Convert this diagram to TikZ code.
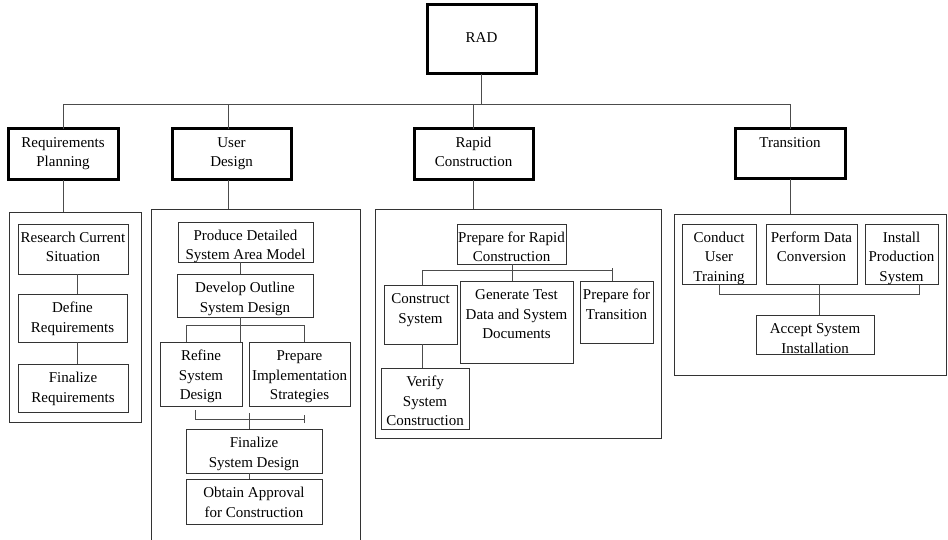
\documentclass[tikz,border=0pt]{standalone}
\usepackage{fontspec}
\setmainfont{Liberation Serif}
\newcommand{\boxat}[7][]{%
  \node[bx,#1] (#2) at (#3,#4) {\begin{minipage}[t][\dimexpr #6pt-#4pt\relax][t]{\dimexpr #5pt-#3pt\relax}\centering\fontsize{15}{19.5}\selectfont\rule{0pt}{18.5pt}#7\end{minipage}};}
\tikzset{
  bx/.style={rectangle,draw=black!80,line width=0.9pt,inner sep=0pt,outer sep=0pt,anchor=north west},
  thickbox/.style={draw=black,line width=3pt},
  conn/.style={draw=black!70,line width=1pt}
}
\begin{document}
\begin{tikzpicture}[x=1pt,y=-1pt]
\useasboundingbox (0,0) rectangle (948,540);
% top
\boxat[thickbox]{rad}{427}{5}{536}{74}{\rule{0pt}{38pt}RAD}
\boxat[thickbox]{rp}{8}{129}{118}{180}{Requirements\\Planning}
\boxat[thickbox]{ud}{172}{129}{291}{180}{User\\Design}
\boxat[thickbox]{rc}{414}{129}{533}{180}{Rapid\\Construction}
\boxat[thickbox]{tr}{735}{129}{845}{179}{Transition}
% containers
\boxat{rpc}{9}{212}{141}{422}{}
\boxat{udc}{151}{209}{360}{560}{}
\boxat{rcc}{375}{209}{661}{438}{}
\boxat{trc}{674}{214}{946}{375}{}
% requirements planning
\boxat{rcs}{18}{224}{128}{274}{Research Current\\Situation}
\boxat{drq}{18}{294}{127}{342}{Define\\Requirements}
\boxat{frq}{18}{364}{128}{412}{Finalize\\Requirements}
% user design
\boxat{pdm}{178}{222}{313}{262}{Produce Detailed\\System Area Model}
\boxat{dos}{177}{274}{313}{317}{Develop Outline\\System Design}
\boxat{rsd}{160}{342}{242}{406}{Refine\\System\\Design}
\boxat{pis}{249}{342}{350}{406}{Prepare\\Implementation\\Strategies}
\boxat{fsd}{186}{429}{322}{473}{Finalize\\System Design}
\boxat{oac}{186}{479}{322}{524}{Obtain Approval\\for Construction}
% rapid construction
\boxat{pfr}{457}{224}{566}{264}{Prepare for Rapid\\Construction}
\boxat{csy}{384}{285}{457}{344}{Construct\\System}
\boxat{gtd}{460}{281}{573}{363}{Generate Test\\Data and System\\Documents}
\boxat{pft}{580}{281}{653}{343}{Prepare for\\Transition}
\boxat{vsc}{381}{368}{469}{429}{Verify\\System\\Construction}
% transition
\boxat{cut}{682}{224}{756}{284}{Conduct\\User\\Training}
\boxat{pdc}{766}{224}{857}{284}{Perform Data\\Conversion}
\boxat{ips}{865}{224}{938}{284}{Install\\Production\\System}
\boxat{asi}{756}{315}{874}{354}{Accept System\\Installation}
% coordinates
\coordinate (bus) at (0,105);
\coordinate (xud) at (228,0);
\coordinate (x77) at (77,0);
\coordinate (x240) at (240,0);
\coordinate (u1) at (186,325);
\coordinate (u2) at (304,325);
\coordinate (b0) at (195,410);
\coordinate (b1) at (195,419);
\coordinate (b2) at (304,419);
\coordinate (b3) at (249,413);
\coordinate (x512) at (512,0);
\coordinate (r1) at (422,271);
\coordinate (r2) at (612,271);
\coordinate (t1) at (719,294);
\coordinate (t2) at (919,294);
\coordinate (t3) at (819,294);
% top connectors
\draw[conn] (rad.south) -- (rad.south |- bus);
\draw[conn] (rp.north) -- (rp.north |- bus) -- (tr.north |- bus) -- (tr.north);
\draw[conn] (ud.north -| xud) -- (bus -| xud);
\draw[conn] (rc.north) -- (rc.north |- bus);
\draw[conn] (rp.south) -- (rp.south |- rpc.north);
\draw[conn] (ud.south -| xud) -- (udc.north -| xud);
\draw[conn] (rc.south) -- (rc.south |- rcc.north);
\draw[conn] (tr.south) -- (tr.south |- trc.north);
% requirements
\draw[conn] (rcs.south -| x77) -- (drq.north -| x77);
\draw[conn] (drq.south -| x77) -- (frq.north -| x77);
% user design
\draw[conn] (pdm.south -| x240) -- (dos.north -| x240);
\draw[conn] (dos.south -| x240) -- (rsd.north -| x240);
\draw[conn] (rsd.north -| u1) -- (u1) -- (u2) -- (pis.north -| u2);
\draw[conn] (b0) -- (b1) -- (b2);
\draw[conn] ([yshift=-4pt]b2) -- ([yshift=4pt]b2);
\draw[conn] (b3) -- (fsd.north -| b3);
\draw[conn] (fsd.south -| b3) -- (oac.north -| b3);
% rapid construction
\draw[conn] (pfr.south -| x512) -- (gtd.north -| x512);
\draw[conn] (csy.north -| r1) -- (r1) -- (r2) -- (pft.north -| r2);
\draw[conn] (r2) -- ([yshift=3pt]r2);
\draw[conn] (csy.south -| r1) -- (vsc.north -| r1);
% transition
\draw[conn] (cut.south -| t1) -- (t1) -- (t2) -- (ips.south -| t2);
\draw[conn] (pdc.south -| t3) -- (asi.north -| t3);
\end{tikzpicture}
\end{document}
